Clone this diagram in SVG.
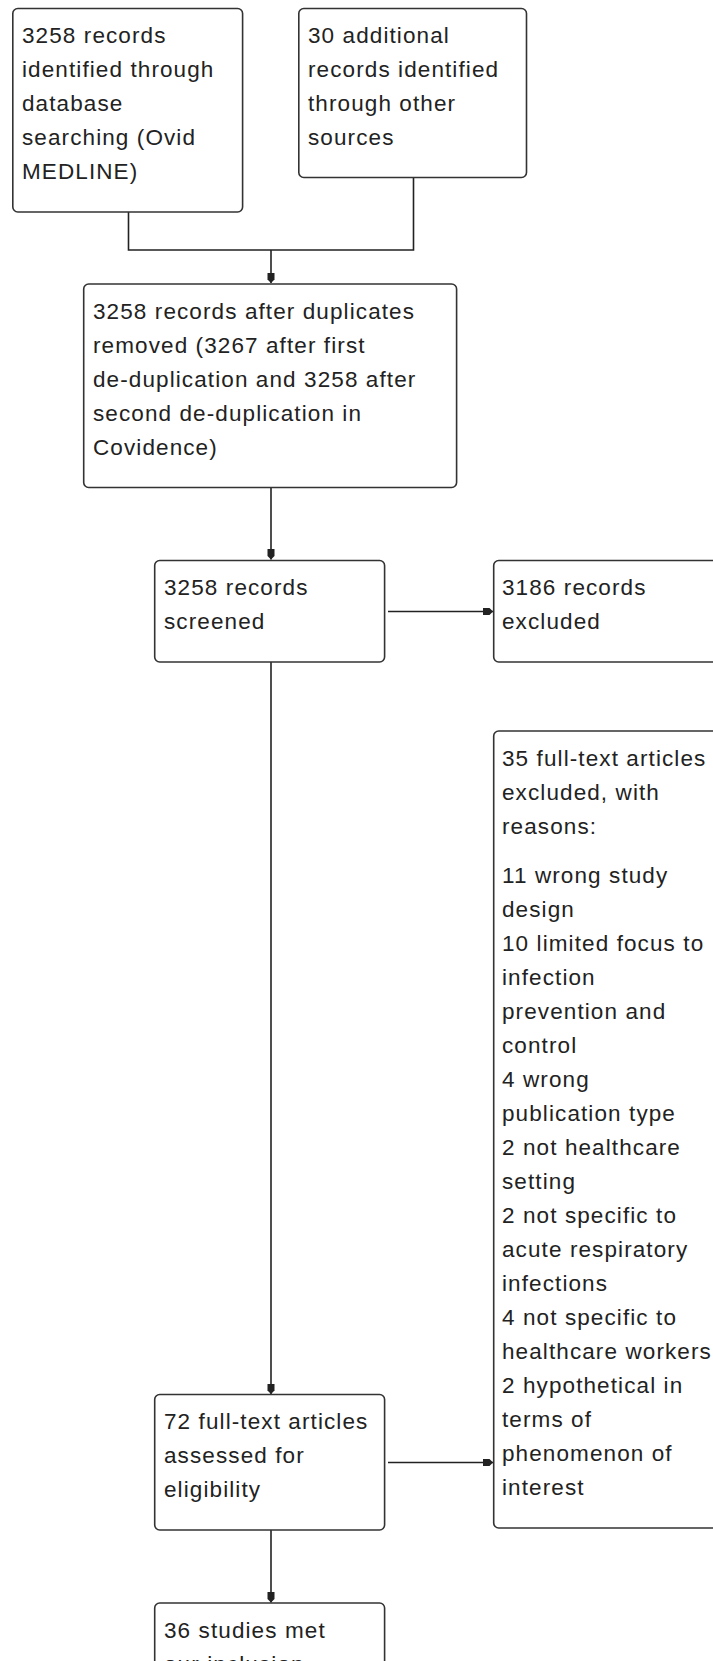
<svg xmlns="http://www.w3.org/2000/svg" width="713" height="1661" viewBox="0 0 713 1661">
<defs>
<style>
.box{fill:#fff;stroke:#333;stroke-width:1.6}
.lbl{font-family:"Liberation Sans",Arial,sans-serif;font-size:22.5px;letter-spacing:1.1px;fill:#222}
.con{fill:none;stroke:#222;stroke-width:1.6}
</style>
<marker id="ah" viewBox="0 -4 11 8" refX="10.5" refY="0" markerWidth="11" markerHeight="8" markerUnits="userSpaceOnUse" orient="auto">
<path d="M0,-3.5 L7,-3.5 L10.5,0 L7,3.5 L0,3.5 z" fill="#222"/>
</marker>
</defs>
<rect width="713" height="1661" fill="#fff"/>
<g id="connectors">
<path class="con" d="M128.5,212 V250 H413.5 V177"/>
<path class="con" d="M271,250 V283" marker-end="url(#ah)"/>
<path class="con" d="M271,487.5 V559.5" marker-end="url(#ah)"/>
<path class="con" d="M388,611.5 H493" marker-end="url(#ah)"/>
<path class="con" d="M271,662 V1394" marker-end="url(#ah)"/>
<path class="con" d="M388,1462.5 H493" marker-end="url(#ah)"/>
<path class="con" d="M271,1530 V1602.5" marker-end="url(#ah)"/>
</g>
<g id="n1">
<rect class="box" x="12.8" y="8.5" width="229.8" height="203.5" rx="5"/>
<text class="lbl" x="22" y="43"><tspan x="22">3258 records</tspan><tspan x="22" dy="34">identified through</tspan><tspan x="22" dy="34">database</tspan><tspan x="22" dy="34">searching (Ovid</tspan><tspan x="22" dy="34">MEDLINE)</tspan></text>
</g>
<g id="n2">
<rect class="box" x="298.8" y="8.5" width="227.7" height="169" rx="5"/>
<text class="lbl" x="308" y="43"><tspan x="308">30 additional</tspan><tspan x="308" dy="34">records identified</tspan><tspan x="308" dy="34">through other</tspan><tspan x="308" dy="34">sources</tspan></text>
</g>
<g id="n3">
<rect class="box" x="83.7" y="284" width="372.9" height="203.5" rx="5"/>
<text class="lbl" x="93" y="318.5"><tspan x="93">3258 records after duplicates</tspan><tspan x="93" dy="34">removed (3267 after first</tspan><tspan x="93" dy="34">de-duplication and 3258 after</tspan><tspan x="93" dy="34">second de-duplication in</tspan><tspan x="93" dy="34">Covidence)</tspan></text>
</g>
<g id="n4">
<rect class="box" x="154.7" y="560.5" width="229.9" height="101.5" rx="5"/>
<text class="lbl" x="164" y="595"><tspan x="164">3258 records</tspan><tspan x="164" dy="34">screened</tspan></text>
</g>
<g id="n5">
<rect class="box" x="493.7" y="560.5" width="260" height="101.5" rx="5"/>
<text class="lbl" x="502" y="595"><tspan x="502">3186 records</tspan><tspan x="502" dy="34">excluded</tspan></text>
</g>
<g id="n6">
<rect class="box" x="493.7" y="731" width="260" height="797" rx="5"/>
<text class="lbl" x="502" y="765.5"><tspan x="502">35 full-text articles</tspan><tspan x="502" dy="34">excluded, with</tspan><tspan x="502" dy="34">reasons:</tspan><tspan x="502" dy="49">11 wrong study</tspan><tspan x="502" dy="34">design</tspan><tspan x="502" dy="34">10 limited focus to</tspan><tspan x="502" dy="34">infection</tspan><tspan x="502" dy="34">prevention and</tspan><tspan x="502" dy="34">control</tspan><tspan x="502" dy="34">4 wrong</tspan><tspan x="502" dy="34">publication type</tspan><tspan x="502" dy="34">2 not healthcare</tspan><tspan x="502" dy="34">setting</tspan><tspan x="502" dy="34">2 not specific to</tspan><tspan x="502" dy="34">acute respiratory</tspan><tspan x="502" dy="34">infections</tspan><tspan x="502" dy="34">4 not specific to</tspan><tspan x="502" dy="34">healthcare workers</tspan><tspan x="502" dy="34">2 hypothetical in</tspan><tspan x="502" dy="34">terms of</tspan><tspan x="502" dy="34">phenomenon of</tspan><tspan x="502" dy="34">interest</tspan></text>
</g>
<g id="n7">
<rect class="box" x="154.7" y="1394.5" width="229.9" height="135.5" rx="5"/>
<text class="lbl" x="164" y="1429"><tspan x="164">72 full-text articles</tspan><tspan x="164" dy="34">assessed for</tspan><tspan x="164" dy="34">eligibility</tspan></text>
</g>
<g id="n8">
<rect class="box" x="154.7" y="1603" width="229.9" height="120" rx="5"/>
<text class="lbl" x="164" y="1637.5"><tspan x="164">36 studies met</tspan><tspan x="164" dy="34">our inclusion</tspan></text>
</g>
</svg>
